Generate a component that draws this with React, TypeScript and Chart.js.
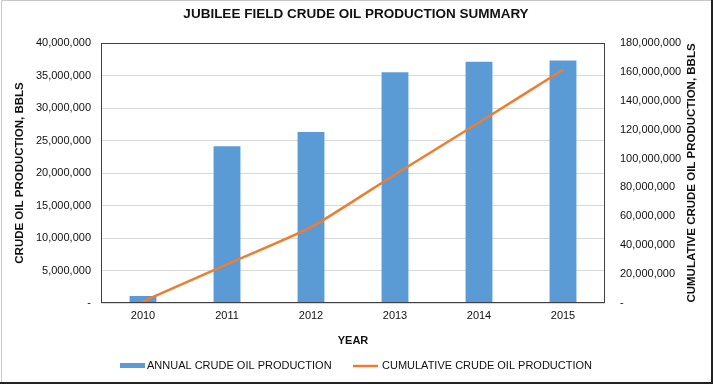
import React, { useEffect, useRef } from 'react';
import { Chart, registerables } from 'chart.js';

Chart.register(...registerables);

const categories = ['2010', '2011', '2012', '2013', '2014', '2015'];
const annualProduction = [1080000, 24100000, 26300000, 35500000, 37100000, 37300000];
const cumulativeProduction = [1100000, 26800000, 52500000, 89000000, 125000000, 161500000];
const leftTickStep = 5000000;
const rightTickStep = 20000000;

const titleText = 'JUBILEE FIELD CRUDE OIL PRODUCTION SUMMARY';
const leftAxisTitle = 'CRUDE OIL PRODUCTION, BBLS';
const rightAxisTitle = 'CUMULATIVE CRUDE OIL PRODUCTION, BBLS';
const xAxisTitle = 'YEAR';
const annualLabel = 'ANNUAL CRUDE OIL PRODUCTION';
const cumulativeLabel = 'CUMULATIVE CRUDE OIL PRODUCTION';

const FONT = '"Liberation Sans", Arial, sans-serif';
const TEXT = '#111111';
const BLUE = '#5B9BD5';
const ORANGE = '#ED7D31';

const fmt = (v: number) => (v === 0 ? '-' : Number(v).toLocaleString('en-US'));

const decor = {
  id: 'decor',
  afterDraw(chart: any) {
    const { ctx, chartArea: a } = chart;
    ctx.save();
    // plot border
    ctx.strokeStyle = '#404040';
    ctx.lineWidth = 1;
    ctx.strokeRect(a.left + 0.5, a.top + 0.5, a.right - a.left - 1, a.bottom - a.top - 1);

    ctx.fillStyle = TEXT;
    ctx.textBaseline = 'middle';
    // title
    ctx.textAlign = 'center';
    ctx.font = `bold 13.5px ${FONT}`;
    ctx.fillText(titleText, 356, 14);

    // right axis title
    ctx.save();
    ctx.translate(692, (a.top + a.bottom) / 2);
    ctx.rotate(-Math.PI / 2);
    ctx.font = `bold 11.5px ${FONT}`;
    ctx.fillText(rightAxisTitle, 0, 0);
    ctx.restore();

    // legend
    const ds = chart.data.datasets;
    ctx.textAlign = 'left';
    ctx.font = `11px ${FONT}`;
    ctx.fillStyle = ds[0].backgroundColor;
    ctx.fillRect(120, 363, 25, 5);
    ctx.fillStyle = TEXT;
    ctx.fillText(ds[0].label, 147, 365.5);
    ctx.strokeStyle = ds[1].borderColor;
    ctx.lineWidth = 2.5;
    ctx.beginPath();
    ctx.moveTo(353, 366);
    ctx.lineTo(378, 366);
    ctx.stroke();
    ctx.fillText(ds[1].label, 382, 365.5);

    // outer frame
    ctx.strokeStyle = '#c8c8c8';
    ctx.lineWidth = 1;
    ctx.beginPath();
    ctx.moveTo(1.5, 384);
    ctx.lineTo(1.5, 0.5);
    ctx.lineTo(711, 0.5);
    ctx.stroke();
    ctx.fillStyle = '#222';
    ctx.fillRect(711, 0, 2, 384);
    ctx.fillRect(0, 382, 713, 2);
    ctx.restore();
  },
};

export default function App() {
  const ref = useRef<HTMLCanvasElement | null>(null);
  useEffect(() => {
    if (!ref.current) return;
    const chart = new Chart(ref.current, {
      type: 'bar',
      data: {
        labels: categories,
        datasets: [
          {
            type: 'bar',
            label: annualLabel,
            data: annualProduction,
            backgroundColor: BLUE,
            borderWidth: 0,
            yAxisID: 'y',
            barPercentage: 0.32,
            categoryPercentage: 1,
            order: 2,
          },
          {
            type: 'line',
            label: cumulativeLabel,
            data: cumulativeProduction,
            borderColor: ORANGE,
            backgroundColor: ORANGE,
            borderWidth: 2.5,
            pointRadius: 0,
            tension: 0.2,
            yAxisID: 'y1',
            order: 1,
          } as any,
        ],
      },
      options: {
        responsive: false,
        animation: false,
        devicePixelRatio: 1,
        layout: { padding: { top: 43, bottom: 36, left: 0, right: 0 } },
        plugins: { legend: { display: false }, title: { display: false }, tooltip: { enabled: false } },
        scales: {
          x: {
            offset: true,
            grid: { display: false, drawTicks: false },
            border: { display: false },
            ticks: { color: TEXT, font: { family: FONT, size: 11 }, padding: 6 },
            title: {
              display: true,
              text: xAxisTitle,
              color: TEXT,
              font: { family: FONT, size: 11, weight: 'bold' },
              padding: { top: 0, bottom: 0 },
            },
            afterFit(scale: any) {
              scale.height = 45;
            },
          },
          y: {
            position: 'left',
            min: 0,
            max: 40000000,
            grid: { color: '#D9D9D9', drawTicks: false },
            border: { display: false },
            ticks: {
              stepSize: leftTickStep,
              color: TEXT,
              font: { family: FONT, size: 11 },
              padding: 10,
              callback: (v: any) => fmt(v),
            },
            title: {
              display: true,
              text: leftAxisTitle,
              color: TEXT,
              font: { family: FONT, size: 11.5, weight: 'bold' },
              padding: { top: 13, bottom: 0 },
            },
            afterFit(scale: any) {
              scale.width = 101;
            },
          },
          y1: {
            position: 'right',
            min: 0,
            max: 180000000,
            grid: { display: false, drawTicks: false },
            border: { display: false },
            ticks: {
              stepSize: rightTickStep,
              color: TEXT,
              font: { family: FONT, size: 11 },
              padding: 15,
              callback: (v: any) => fmt(v),
            },
            afterFit(scale: any) {
              scale.width = 108;
            },
          },
        },
      } as any,
      plugins: [decor],
    });
    return () => chart.destroy();
  }, []);
  return (
    <div style={{ position: 'fixed', left: 0, top: 0, width: 713, height: 384, background: '#fff' }}>
      <canvas ref={ref} width={713} height={384} style={{ width: 713, height: 384, display: 'block' }} />
    </div>
  );
}
